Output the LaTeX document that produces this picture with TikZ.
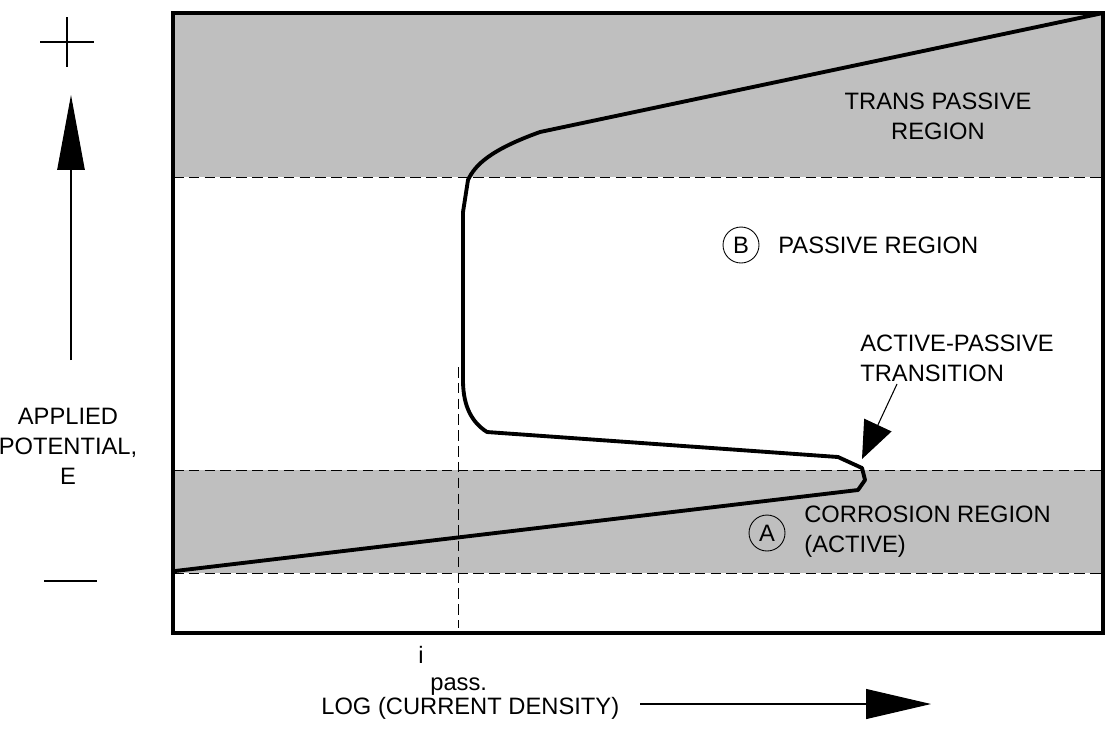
\documentclass[tikz,border=0pt]{standalone}
\usepackage{fontspec}
\setmainfont{Liberation Sans}
\usetikzlibrary{arrows.meta}
\begin{document}
\begin{tikzpicture}[x=0.02cm,y=-0.02cm,
  lbl/.style={font=\fontsize{13.5}{17}\selectfont,inner sep=0pt},
  dsh/.style={dash pattern=on 6pt off 3pt,line width=0.5pt},
  curve/.style={line width=2.2pt,line join=round}]
\useasboundingbox (0,0) rectangle (1114,728);
\fill[gray!50] (173,13) rectangle (1103,177);
\fill[gray!50] (173,470) rectangle (1103,573);
\draw[dsh] (173,177) -- (1103,177);
\draw[dsh] (173,470) -- (1103,470);
\draw[dsh] (173,573) -- (1103,573);
\draw[dsh] (458,367) -- (458,628);
\draw[curve] (175,571) -- (858,490) -- (865,480) -- (862,468) -- (838,457) -- (487,432)
  .. controls (468,420) and (463,400) .. (463,380) -- (463,212)
  -- (468,180) .. controls (475,165) and (490,150) .. (540,132) -- (1103,13);
\draw[line width=2pt] (173,13) rectangle (1103,633);
% labels
\node[lbl,align=center] (tp) at (938,116) {TRANS PASSIVE\\REGION};
\node[draw,circle,minimum size=0.72cm,inner sep=0pt,line width=0.5pt] (B) at (741,245) {\fontsize{13.5}{14}\selectfont B};
\node[lbl,anchor=west] (pr) at (778,245) {PASSIVE REGION};
\node[draw,circle,minimum size=0.72cm,inner sep=0pt,line width=0.5pt] (A) at (767,533) {\fontsize{13.5}{14}\selectfont A};
\node[lbl,anchor=west,align=left] (cr) at (804,532) {CORROSION REGION\\(ACTIVE)};
\node[lbl,anchor=west,align=left] (apt) at (860,358) {ACTIVE-PASSIVE\\TRANSITION};
\coordinate (at0) at (897,384);
\coordinate (at1) at (862,459);
\draw[line width=0.6pt,-{Triangle[length=0.75cm,width=0.6cm]}] (at0) -- (at1);
% left axis
\coordinate (p1) at (40,42); \coordinate (p2) at (94,42);
\coordinate (p3) at (67,17); \coordinate (p4) at (67,67);
\draw[line width=1pt] (p1) -- (p2) (p3) -- (p4);
\coordinate (v0) at (71,360);
\coordinate (v1) at (71,95);
\draw[line width=0.6pt,-{Triangle[length=1.5cm,width=0.55cm]}] (v0) -- (v1);
\coordinate (m1) at (44,581); \coordinate (m2) at (97,581);
\draw[line width=1pt] (m1) -- (m2);
\node[lbl,align=center] (ape) at (68,446) {APPLIED\\POTENTIAL,\\E};
% bottom axis
\node[lbl,anchor=base west] (i) at (418,663) {i};
\node[lbl,anchor=base west] (ps) at (430,690) {pass.};
\node[lbl,anchor=base west] (log) at (321,714) {LOG (CURRENT DENSITY)};
\coordinate (h0) at (640,704);
\coordinate (h1) at (931,704);
\draw[line width=0.6pt,-{Triangle[length=1.3cm,width=0.6cm]}] (h0) -- (h1);
\end{tikzpicture}
\end{document}
